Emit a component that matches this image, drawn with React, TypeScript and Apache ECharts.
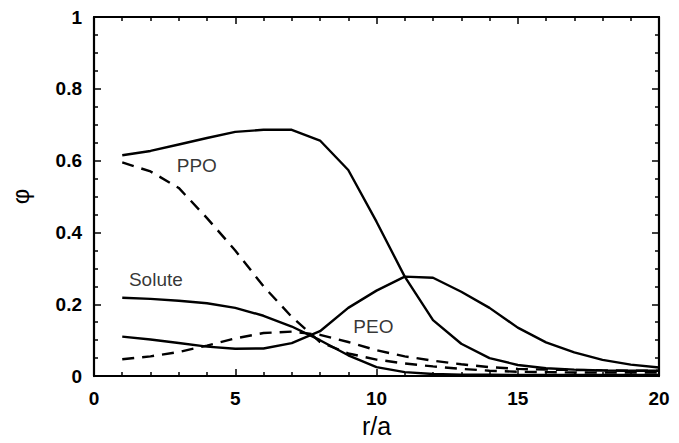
import React, { useEffect, useRef } from "react";
import * as echarts from "echarts";

// radial positions r/a where each profile is sampled
const radius = [1, 2, 3, 4, 5, 6, 7, 8, 9, 10, 11, 12, 13, 14, 15, 16, 17, 18, 19, 20];

// volume fraction profiles
const ppoSolid = [0.615, 0.627, 0.645, 0.663, 0.68, 0.686, 0.686, 0.656, 0.574, 0.43, 0.277, 0.156, 0.09, 0.05, 0.031, 0.022, 0.018, 0.016, 0.015, 0.015];
const peoSolid = [0.11, 0.102, 0.092, 0.082, 0.076, 0.077, 0.092, 0.125, 0.19, 0.238, 0.277, 0.274, 0.235, 0.19, 0.135, 0.094, 0.066, 0.045, 0.032, 0.024];
const soluteSolid = [0.218, 0.215, 0.21, 0.203, 0.19, 0.168, 0.138, 0.1, 0.058, 0.025, 0.011, 0.006, 0.004, 0.004, 0.003, 0.003, 0.003, 0.003, 0.003, 0.003];
const ppoDashed = [0.595, 0.57, 0.524, 0.44, 0.35, 0.25, 0.165, 0.095, 0.063, 0.046, 0.035, 0.027, 0.02, 0.015, 0.012, 0.011, 0.01, 0.01, 0.01, 0.01];
const peoDashed = [0.047, 0.055, 0.067, 0.085, 0.105, 0.12, 0.124, 0.115, 0.095, 0.072, 0.055, 0.043, 0.033, 0.025, 0.02, 0.018, 0.017, 0.016, 0.015, 0.015];

// curve annotations: [text, r/a, phi]
const annotations: [string, number, number][] = [
  ["PPO", 3.64, 0.586],
  ["Solute", 2.19, 0.27],
  ["PEO", 9.89, 0.139],
];

const FONT = "'Liberation Sans', Arial, Helvetica, sans-serif";

const pairs = (ys: number[]) => radius.map((x, i) => [x, ys[i]]);

export default function App() {
  const ref = useRef<HTMLDivElement>(null);

  useEffect(() => {
    if (!ref.current) return;
    const chart = echarts.init(ref.current, undefined, { renderer: "svg" });

    const tickStyle = { color: "#000", width: 1.5 };
    const axisLine = { show: true, onZero: false, lineStyle: { color: "#000", width: 2.2 } };
    const tickLabel = { color: "#000", fontFamily: FONT, fontSize: 19, fontWeight: "bold" as const, margin: 12 };

    const line = (name: string, ys: number[], dashed: boolean) => ({
      name,
      type: "line",
      data: pairs(ys),
      symbol: "none",
      smooth: false,
      xAxisIndex: 0,
      yAxisIndex: 0,
      lineStyle: {
        color: "#000",
        width: 2.4,
        type: dashed ? [12, 8] : "solid",
      },
      z: 3,
    });

    chart.setOption({
      animation: false,
      backgroundColor: "#fff",
      grid: { left: 93, right: 20, top: 17, bottom: 59, containLabel: false },
      xAxis: [
        {
          type: "value",
          min: 0,
          max: 20,
          interval: 5,
          position: "bottom",
          axisLine,
          axisTick: { show: true, inside: true, length: 7, lineStyle: tickStyle },
          minorTick: { show: true, splitNumber: 5, length: 4, lineStyle: tickStyle },
          splitLine: { show: false },
          axisLabel: { ...tickLabel, margin: 13 },
          name: "r/a",
          nameLocation: "middle",
          nameGap: 30,
          nameTextStyle: { color: "#000", fontFamily: FONT, fontSize: 25 },
        },
        {
          type: "value",
          min: 0,
          max: 20,
          interval: 5,
          position: "top",
          axisLine,
          axisTick: { show: true, inside: true, length: 7, lineStyle: tickStyle },
          minorTick: { show: true, splitNumber: 5, length: 4, lineStyle: tickStyle },
          splitLine: { show: false },
          axisLabel: { show: false },
        },
      ],
      yAxis: [
        {
          type: "value",
          min: 0,
          max: 1,
          interval: 0.2,
          position: "left",
          axisLine,
          axisTick: { show: true, inside: true, length: 7, lineStyle: tickStyle },
          minorTick: { show: true, splitNumber: 4, length: 4, lineStyle: tickStyle },
          splitLine: { show: false },
          axisLabel: tickLabel,
          name: "φ",
          nameLocation: "middle",
          nameGap: 62,
          nameRotate: 90,
          nameTextStyle: { color: "#000", fontFamily: FONT, fontSize: 24 },
        },
        {
          type: "value",
          min: 0,
          max: 1,
          interval: 0.2,
          position: "right",
          axisLine,
          axisTick: { show: true, inside: true, length: 7, lineStyle: tickStyle },
          minorTick: { show: true, splitNumber: 4, length: 4, lineStyle: tickStyle },
          splitLine: { show: false },
          axisLabel: { show: false },
        },
      ],
      series: [
        line("PPO", ppoSolid, false),
        line("PEO", peoSolid, false),
        line("Solute", soluteSolid, false),
        line("PPO (dashed)", ppoDashed, true),
        line("PEO (dashed)", peoDashed, true),
        {
          name: "labels",
          type: "scatter",
          symbolSize: 0,
          data: annotations.map(([t, x, y]) => ({ value: [x, y], name: t })),
          label: {
            show: true,
            position: "inside",
            formatter: (p: any) => p.name,
            color: "#000",
            fontFamily: FONT,
            fontSize: 19,
          },
          silent: true,
          z: 4,
        },
      ],
    });

    return () => chart.dispose();
  }, []);

  return (
    <div
      ref={ref}
      style={{ position: "fixed", left: 0, top: 0, width: 679, height: 443 }}
    />
  );
}
